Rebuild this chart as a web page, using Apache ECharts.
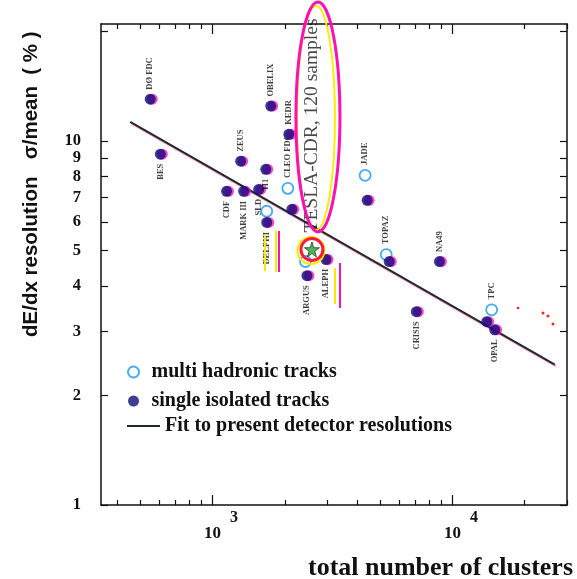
<!DOCTYPE html>
<html>
<head>
<meta charset="utf-8">
<script src="https://cdn.jsdelivr.net/npm/echarts@6/dist/echarts.min.js"></script>
<style>
  html, body { margin: 0; padding: 0; background: #ffffff; }
  #chart { width: 577px; height: 579px; }
</style>
</head>
<body>
<div id="chart"></div>
<script>
// ---- data: dE/dx resolution vs. total number of clusters ----
// single isolated tracks
const singleClusters = [550, 606, 1144, 1310, 1348, 1557, 1667, 1682, 1748, 2080, 2141, 2474, 2971, 4409, 5450, 8822, 7069, 13880, 14990];
const singleRes      = [13.05, 9.21, 7.28, 8.81, 7.28, 7.37, 8.37, 5.98, 12.49, 10.45, 6.50, 4.27, 4.73, 6.88, 4.67, 4.67, 3.40, 3.19, 3.03];
const singleLabels   = ['DØ FDC', 'BES', 'CDF', 'ZEUS', 'MARK III', 'SLD', 'H1', 'DELPHI', 'OBELIX', 'KEDR', '', 'ARGUS', 'ALEPH', '', '', 'NA49', 'CRISIS', '', 'OPAL'];

// multi hadronic tracks
const multiClusters = [1682, 2060, 2440, 4325, 5294, 14560];
const multiRes      = [6.42, 7.42, 4.67, 8.06, 4.88, 3.44];
const multiLabels   = ['', 'CLEO FDC', '', 'JADE', 'TOPAZ', 'TPC'];

// fit to present detector resolutions (end points of the straight line in log-log)
const fitClusters = [454, 26700];
const fitRes      = [11.3, 2.43];

// TESLA-CDR expectation
const teslaClusters = [2596];
const teslaRes      = [5.04];
const teslaLabel    = 'TESLA-CDR, 120 samples';

// axes
const xMin = 343, xMax = 30000;
const yMin = 1, yMax = 21;
const xMajorTicks = [1000, 10000];
const xMinorTicks = [400, 500, 600, 700, 800, 900, 2000, 3000, 4000, 5000, 6000, 7000, 8000, 9000, 20000, 30000];
const yTicks      = [1, 2, 3, 4, 5, 6, 7, 8, 9, 10, 20];
const yTickLabels = [1, 2, 3, 4, 5, 6, 7, 8, 10];
const yTickLabelsTight = [9]; // sits right under "10", drawn on its own axis layer

const seriesNames = ['multi hadronic tracks', 'single isolated tracks', 'Fit to present detector resolutions'];

// labels written above the mark (the rest go below)
const labelsAbove = ['DØ FDC', 'ZEUS', 'OBELIX', 'KEDR', 'NA49', 'CLEO FDC', 'JADE', 'TOPAZ', 'TPC'];

const SERIF = '"Liberation Serif", "Times New Roman", serif';
const INK = '#111111';

function pointsWithLabels(xs, ys, labels) {
  return xs.map((x, i) => {
    const txt = labels[i];
    const above = labelsAbove.indexOf(txt) >= 0;
    return {
      value: [x, ys[i]],
      label: {
        show: txt !== '',
        formatter: txt,
        position: above ? 'top' : 'bottom',
        align: above ? 'left' : 'right'
      }
    };
  });
}

const pointLabel = {
  rotate: 90,
  verticalAlign: 'middle',
  distance: 4,
  fontFamily: SERIF,
  fontWeight: 'bold',
  fontSize: 8.5,
  color: INK
};

const chart = echarts.init(document.getElementById('chart'), null, { renderer: 'canvas' });

const frameLine = { show: true, lineStyle: { color: INK, width: 1.5 } };
const tickLine = { color: INK, width: 1.2 };
const yLabelStyle = {
  show: true, margin: 20, hideOverlap: false,
  formatter: v => String(Math.round(v)),
  fontFamily: SERIF, fontWeight: 'bold', fontSize: 16.5, color: INK
};

const option = {
  backgroundColor: '#ffffff',
  animation: false,
  grid: { left: 101, right: 10, top: 24, bottom: 74, containLabel: false },
  xAxis: [
    {
      type: 'log', logBase: 10, min: xMin, max: xMax, position: 'bottom',
      axisLine: frameLine,
      axisTick: { show: true, inside: true, length: 10, customValues: xMajorTicks, lineStyle: tickLine },
      axisLabel: {
        show: true, customValues: xMajorTicks, margin: 5, padding: [0, 0, 0, 17], hideOverlap: false,
        formatter: v => '{b|10}{s|' + Math.round(Math.log10(v)) + '}',
        rich: {
          b: { fontFamily: SERIF, fontWeight: 'bold', fontSize: 17, color: INK, lineHeight: 32, verticalAlign: 'bottom' },
          s: { fontFamily: SERIF, fontWeight: 'bold', fontSize: 16, color: INK, lineHeight: 32, verticalAlign: 'top', padding: [0, 0, 0, 9] }
        }
      },
      splitLine: { show: false }
    },
    {
      type: 'log', logBase: 10, min: xMin, max: xMax, position: 'bottom',
      axisLine: { show: false },
      axisTick: { show: true, inside: true, length: 5, customValues: xMinorTicks, lineStyle: tickLine },
      axisLabel: { show: false }, splitLine: { show: false }
    },
    {
      type: 'log', logBase: 10, min: xMin, max: xMax, position: 'top',
      axisLine: frameLine,
      axisTick: { show: true, inside: true, length: 10, customValues: xMajorTicks, lineStyle: tickLine },
      axisLabel: { show: false }, splitLine: { show: false }
    },
    {
      type: 'log', logBase: 10, min: xMin, max: xMax, position: 'top',
      axisLine: { show: false },
      axisTick: { show: true, inside: true, length: 5, customValues: xMinorTicks, lineStyle: tickLine },
      axisLabel: { show: false }, splitLine: { show: false }
    }
  ],
  yAxis: [
    {
      type: 'log', logBase: 10, min: yMin, max: yMax, position: 'left',
      axisLine: frameLine,
      axisTick: { show: true, inside: true, length: 7, customValues: yTicks, lineStyle: tickLine },
      axisLabel: Object.assign({ customValues: yTickLabels }, yLabelStyle),
      splitLine: { show: false }
    },
    {
      type: 'log', logBase: 10, min: yMin, max: yMax, position: 'right',
      axisLine: frameLine,
      axisTick: { show: true, inside: true, length: 7, customValues: yTicks, lineStyle: tickLine },
      axisLabel: { show: false }, splitLine: { show: false }
    },
    {
      type: 'log', logBase: 10, min: yMin, max: yMax, position: 'left',
      axisLine: { show: false },
      axisTick: { show: false },
      axisLabel: Object.assign({ customValues: yTickLabelsTight }, yLabelStyle),
      splitLine: { show: false }
    }
  ],
  legend: [
    {
      data: [seriesNames[0], seriesNames[1]],
      orient: 'vertical', left: 127, top: 362, padding: 0,
      itemGap: 9, itemWidth: 26, itemHeight: 11,
      selectedMode: false,
      textStyle: { fontFamily: SERIF, fontWeight: 'bold', fontSize: 20, color: INK }
    },
    {
      data: [{ name: seriesNames[2], icon: 'rect' }],
      orient: 'vertical', left: 127, top: 416, padding: 0,
      itemWidth: 33, itemHeight: 2,
      selectedMode: false,
      textStyle: { fontFamily: SERIF, fontWeight: 'bold', fontSize: 20, color: INK }
    }
  ],
  series: [
    {
      name: seriesNames[2], type: 'line', xAxisIndex: 0, yAxisIndex: 0,
      data: fitClusters.map((x, i) => [x, fitRes[i]]),
      symbol: 'none', showSymbol: false, z: 2,
      lineStyle: { color: '#1e2b1e', width: 2, shadowColor: 'rgba(255,0,200,0.45)', shadowOffsetX: 1, shadowOffsetY: 1.5, shadowBlur: 0 },
      itemStyle: { color: '#1e2b1e' }
    },
    {
      name: seriesNames[0], type: 'scatter', xAxisIndex: 0, yAxisIndex: 0,
      symbol: 'circle', symbolSize: 11, z: 3,
      itemStyle: { color: 'rgba(255,255,255,0)', borderColor: '#1a94f5', borderWidth: 1.8 },
      label: pointLabel,
      data: pointsWithLabels(multiClusters, multiRes, multiLabels)
    },
    {
      name: seriesNames[1], type: 'scatter', xAxisIndex: 0, yAxisIndex: 0,
      symbol: 'circle', symbolSize: 11, z: 4,
      itemStyle: { color: '#0c0c78', shadowColor: 'rgba(255,0,190,0.9)', shadowOffsetX: 2, shadowBlur: 0 },
      label: pointLabel,
      data: pointsWithLabels(singleClusters, singleRes, singleLabels)
    },
    {
      name: 'TESLA-CDR', type: 'scatter', xAxisIndex: 0, yAxisIndex: 0,
      symbol: 'path://M50,0 L61,35 L98,35 L68,57 L79,91 L50,70 L21,91 L32,57 L2,35 L39,35 Z',
      symbolSize: 15, z: 6,
      itemStyle: { color: '#2e9c3c', borderColor: '#0f4a14', borderWidth: 1 },
      label: {
        show: true, formatter: teslaLabel, position: 'top', rotate: 90,
        align: 'left', verticalAlign: 'middle', distance: 4, offset: [5, 0],
        fontFamily: SERIF, fontSize: 19.5, color: '#1a1a1a'
      },
      data: teslaClusters.map((x, i) => [x, teslaRes[i]])
    }
  ]
};

chart.setOption(option);

// annotation rings drawn round the TESLA-CDR point and its caption
const star = chart.convertToPixel({ xAxisIndex: 0, yAxisIndex: 0 }, [teslaClusters[0], teslaRes[0]]);
const cap = { cx: star[0] + 5, cy: 117 };

chart.setOption({
  graphic: [
    // y axis title
    {
      type: 'text', x: 31, y: 337, rotation: Math.PI / 2, z: 10,
      style: { text: 'dE/dx resolution   σ/mean  ( % )', font: 'bold 20.5px "Liberation Sans", Arial, sans-serif', fill: INK, textAlign: 'left', textVerticalAlign: 'middle' }
    },
    // x axis title
    {
      type: 'text', x: 573, y: 568, z: 10,
      style: { text: 'total number of clusters', font: 'bold 26px "Liberation Serif", serif', fill: INK, textAlign: 'right', textVerticalAlign: 'middle' }
    },
    // caption ellipses
    { type: 'ellipse', z: 7, shape: { cx: cap.cx - 1, cy: cap.cy + 1, rx: 19, ry: 112 }, style: { fill: 'none', stroke: '#ffec00', lineWidth: 2 } },
    { type: 'ellipse', z: 8, shape: { cx: cap.cx + 1, cy: cap.cy, rx: 22, ry: 115 }, style: { fill: 'none', stroke: '#ff10b4', lineWidth: 3 } },
    // rings round the star
    { type: 'circle', z: 7, shape: { cx: star[0] - 1, cy: star[1] + 1, r: 13.5 }, style: { fill: 'none', stroke: '#ffe800', lineWidth: 2 } },
    { type: 'circle', z: 8, shape: { cx: star[0], cy: star[1], r: 11 }, style: { fill: 'none', stroke: '#ff1a3a', lineWidth: 3 } },
    // highlighter strokes beside DELPHI and ALEPH
    { type: 'line', z: 7, shape: { x1: 265, y1: 235, x2: 265, y2: 271 }, style: { stroke: '#ffe800', lineWidth: 2 } },
    { type: 'line', z: 7, shape: { x1: 276, y1: 231, x2: 276, y2: 272 }, style: { stroke: '#ffe800', lineWidth: 2 } },
    { type: 'line', z: 7, shape: { x1: 279, y1: 231, x2: 279, y2: 272 }, style: { stroke: '#ff10b4', lineWidth: 2 } },
    { type: 'line', z: 7, shape: { x1: 335, y1: 268, x2: 335, y2: 304 }, style: { stroke: '#ffe800', lineWidth: 2 } },
    { type: 'line', z: 7, shape: { x1: 340, y1: 263, x2: 340, y2: 308 }, style: { stroke: '#ff10b4', lineWidth: 2 } },
    // stray red marks
    { type: 'circle', z: 7, shape: { cx: 518, cy: 308, r: 1.3 }, style: { fill: '#ff2020' } },
    { type: 'circle', z: 7, shape: { cx: 543, cy: 313, r: 1.5 }, style: { fill: '#ff2020' } },
    { type: 'circle', z: 7, shape: { cx: 548, cy: 316, r: 1.5 }, style: { fill: '#ff2020' } },
    { type: 'circle', z: 7, shape: { cx: 553, cy: 324, r: 1.5 }, style: { fill: '#ff2020' } }
  ]
});
</script>
</body>
</html>
